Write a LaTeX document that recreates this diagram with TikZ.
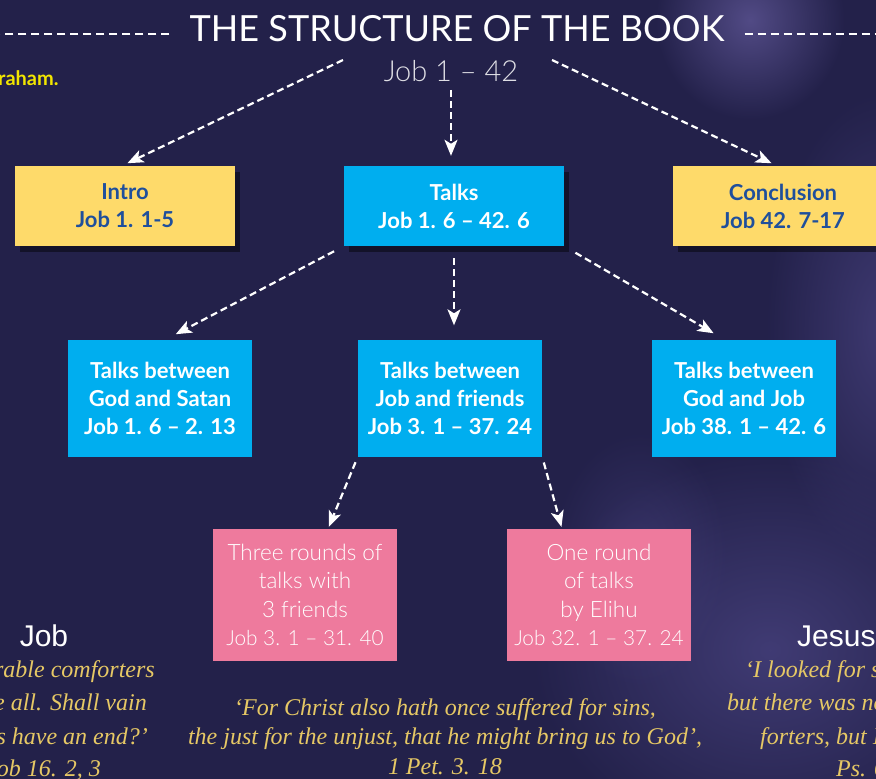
\documentclass[tikz,border=0pt]{standalone}
\usepackage{fontspec}
\setmainfont{Lato}
\newfontfamily\lightf{Lato Light}
\newfontfamily\qfont{Liberation Serif}
\newfontfamily\hfont{Liberation Sans}
\usetikzlibrary{arrows.meta,shadows,fadings}
\tikzfading[name=softglow, inner color=transparent!0, outer color=transparent!100]
\newcommand\refline[1]{{\fontsize{20.8}{28.5}\selectfont #1}}
\definecolor{bg}{HTML}{23214A}
\definecolor{photo}{HTML}{5A5290}
\definecolor{photob}{HTML}{4A4482}
\definecolor{ybox}{HTML}{FEDA6A}
\definecolor{ytext}{HTML}{1F4F9C}
\definecolor{cbox}{HTML}{00AEEF}
\definecolor{pbox}{HTML}{EE7A9D}
\definecolor{qyellow}{HTML}{E6C865}
\definecolor{hyellow}{HTML}{F2E600}
\tikzset{
  topbox/.style={minimum width=220pt,minimum height=80pt,inner sep=0pt,align=center,
    font=\bfseries\fontsize{22}{28}\selectfont,
    drop shadow={shadow xshift=5pt,shadow yshift=-6pt,opacity=0.55,fill=black!80!bg}},
  ybx/.style={topbox,fill=ybox,text=ytext},
  cbx/.style={topbox,fill=cbox,text=white},
  midbox/.style={minimum width=184pt,minimum height=117pt,inner sep=0pt,align=center,
    fill=cbox,text=white,font=\bfseries\fontsize{22}{28}\selectfont},
  pinkbox/.style={minimum width=184pt,minimum height=132pt,inner sep=0pt,align=center,
    fill=pbox,text=white,font=\lightf\fontsize{22.5}{28.5}\selectfont},
  arr/.style={draw=white,line width=2.2pt,dash pattern=on 7pt off 4pt,
    -{Stealth[length=16pt,width=13pt,inset=4pt]}},
  hdash/.style={draw=white,line width=1.6pt,dash pattern=on 8pt off 5pt},
  quote/.style={text=qyellow,font=\qfont\itshape\fontsize{24}{29.5}\selectfont,inner sep=0pt},
  glow/.style={path fading=softglow,fill opacity=#1},
  hdr/.style={text=white,font=\hfont\fontsize{30}{32}\selectfont,inner sep=0pt}
}
\begin{document}
\begin{tikzpicture}[x=1pt,y=-1pt]
\useasboundingbox (0,0) rectangle (876,779);
\clip (0,0) rectangle (876,779);
\fill[bg] (0,0) rectangle (876,779);
% background photo hints
\fill[photo,glow=0.85] (750,20) ellipse (95 and 100);
\fill[photob,glow=0.7] (885,330) ellipse (120 and 240);
\fill[photob,glow=0.75] (770,650) ellipse (240 and 200);
\fill[photob,glow=0.45] (640,560) ellipse (90 and 130);

\node[text=white,font=\fontsize{36}{40}\selectfont,inner sep=0pt] (title) at (457,29) {THE STRUCTURE OF THE BOOK};
\draw[hdash] ([xshift=-20pt,yshift=-5pt]title.west) -- ++(-200,0);
\draw[hdash] ([xshift=20pt,yshift=-5pt]title.east) -- ++(200,0);
\node[text=white!85!bg,font=\lightf\fontsize{29}{32}\selectfont,inner sep=0pt] (job) at (451,71) {Job 1 – 42};
\node[text=hyellow,font=\bfseries\fontsize{20}{22}\selectfont,anchor=west,inner sep=0pt] (abr) at (-2,78) {raham.};

\node[ybx] (intro) at (125,206) {Intro\\Job 1. 1-5};
\node[cbx] (talks) at (454,206) {Talks\\Job 1. 6 – 42. 6};
\node[ybx] (concl) at (783,206) {Conclusion\\Job 42. 7-17};

\node[midbox] (gs) at (160,398) {Talks between\\God and Satan\\Job 1. 6 – 2. 13};
\node[midbox] (jf) at (450,398) {Talks between\\Job and friends\\Job 3. 1 – 37. 24};
\node[midbox] (gj) at (744,398) {Talks between\\God and Job\\Job 38. 1 – 42. 6};

\node[pinkbox] (three) at (305,595) {Three rounds of\\talks with\\3 friends\\\refline{Job 3. 1 – 31. 40}};
\node[pinkbox] (one) at (599,595) {One round\\of talks\\by Elihu\\\refline{Job 32. 1 – 37. 24}};

\coordinate (s1) at (343,60);
\coordinate (s3) at (552,60);
\draw[arr,shorten >=6pt] (s1) -- ([xshift=-3pt]intro.north);
\draw[arr,shorten <=8pt,shorten >=10pt] (job.south) -- (job.south |- talks.north);
\draw[arr,shorten >=6pt] (s3) -- ([xshift=-6pt]concl.north);

\draw[arr,shorten <=11pt,shorten >=11pt] (talks.south west) -- ([xshift=6pt]gs.north);
\draw[arr,shorten <=12pt,shorten >=14pt] (talks.south) -- (talks.south |- jf.north);
\draw[arr,shorten <=13pt,shorten >=12pt] (talks.south east) -- ([xshift=-20pt]gj.north);

\draw[arr,shorten <=6pt,shorten >=2pt] (jf.south west) -- ([xshift=23pt]three.north);
\draw[arr,shorten <=6pt,shorten >=2pt] (jf.south east) -- ([xshift=-37pt]one.north);

% side and bottom texts
\node[hdr] (jobh) at (44,636) {Job};
\node[quote,anchor=base east] (ql1) at (155,677) {rable comforters};
\node[quote,anchor=base east] (ql2) at (147,710) {e all. Shall vain};
\node[quote,anchor=base east] (ql3) at (148,744) {s have an end?’};
\node[quote,anchor=base east] (ql4) at (101,776) {ob 16. 2, 3};

\node[quote,align=center,anchor=base] (qc) at (445,774) {‘For Christ also hath once suffered for sins,\\the just for the unjust, that he might bring us to God’,\\1 Pet. 3. 18};

\node[hdr,anchor=west] (jesus) at (797,636) {Jesus};
\node[quote,anchor=base west] (qr1) at (745,677) {‘I looked for s};
\node[quote,anchor=base west] (qr2) at (727,710) {but there was no};
\node[quote,anchor=base west] (qr3) at (760,744) {forters, but I};
\node[quote,anchor=base west] (qr4) at (836,776) {Ps. 6};
\end{tikzpicture}
\end{document}
